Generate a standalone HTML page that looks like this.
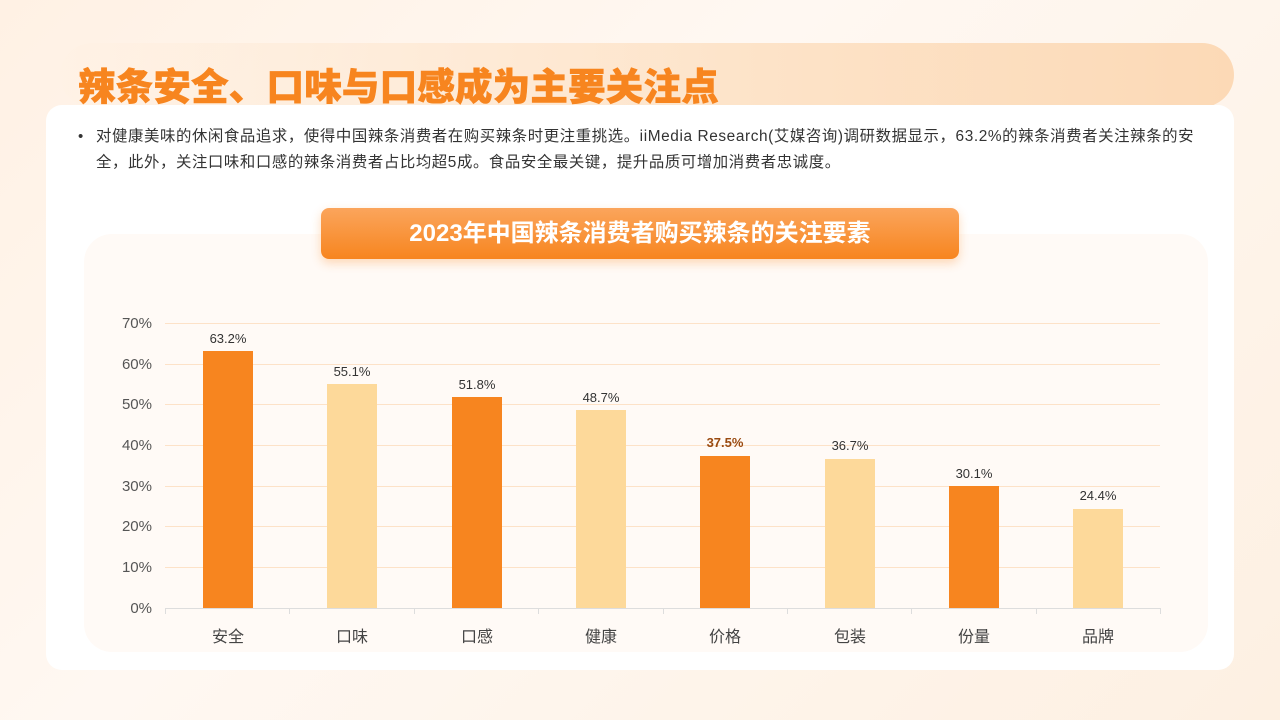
<!DOCTYPE html>
<html><head><meta charset="utf-8"><style>
*{margin:0;padding:0;box-sizing:border-box}
body{width:1280px;height:720px;overflow:hidden;font-family:"Liberation Sans","Noto Sans CJK SC",sans-serif;background:linear-gradient(135deg,#fff1e4 0%,#fff8f2 40%,#fdf0e2 100%);position:relative}
.band{position:absolute;left:60px;top:43px;width:1174px;height:64px;border-radius:32px;background:linear-gradient(90deg,rgba(255,240,225,0.2),#fde3c8 60%,#fcd9b6)}
.title{position:absolute;left:78px;top:56px;font-size:37.5px;font-weight:900;color:#f7851f;letter-spacing:0.2px;z-index:5;-webkit-text-stroke:0.6px #f7851f}
.card{position:absolute;left:46px;top:105px;width:1188px;height:565px;background:#fff;border-radius:16px}
.txt{position:absolute;left:96px;top:124px;width:1140px;font-size:15.4px;line-height:26px;color:#333;white-space:nowrap;letter-spacing:0.6px}
.bul{position:absolute;left:78px;top:124px;font-size:15px;line-height:26px;color:#333}
.inner{position:absolute;left:84px;top:234px;width:1124px;height:418px;background:#fffaf6;border-radius:28px}
.ct{position:absolute;left:321px;top:208px;width:638px;height:51px;border-radius:8px;background:linear-gradient(180deg,#fba55c,#f7851f);color:#fff;font-size:24px;font-weight:bold;text-align:center;line-height:51px;box-shadow:0 4px 10px rgba(247,133,31,0.3)}
.g{position:absolute;left:165px;width:995px;height:1px;background:#fde2c8}
.yl{position:absolute;left:100px;width:52px;text-align:right;font-size:15px;color:#555}
.bar{position:absolute;width:50px;bottom:112px}
.v{position:absolute;width:80px;text-align:center;font-size:13px;color:#333}
.x{position:absolute;top:623px;width:80px;text-align:center;font-size:16px;color:#444}
.t{position:absolute;top:608px;width:1px;height:6px;background:#ddd}
</style></head><body>
<div class="band"></div>
<div class="card"></div>
<div class="title">辣条安全、口味与口感成为主要关注点</div>
<div class="bul">•</div>
<div class="txt">对健康美味的休闲食品追求，使得中国辣条消费者在购买辣条时更注重挑选。iiMedia Research(艾媒咨询)调研数据显示，63.2%的辣条消费者关注辣条的安<br>全，此外，关注口味和口感的辣条消费者占比均超5成。食品安全最关键，提升品质可增加消费者忠诚度。</div>
<div class="inner"></div>
<div class="ct">2023年中国辣条消费者购买辣条的关注要素</div>
<div class="g" style="top:323px"></div><div class="g" style="top:364px"></div><div class="g" style="top:404px"></div><div class="g" style="top:445px"></div><div class="g" style="top:486px"></div><div class="g" style="top:526px"></div><div class="g" style="top:567px"></div>
<div class="g" style="top:608px;background:#ddd"></div>
<div class="yl" style="top:315px">70%</div><div class="yl" style="top:356px">60%</div><div class="yl" style="top:396px">50%</div><div class="yl" style="top:437px">40%</div><div class="yl" style="top:478px">30%</div><div class="yl" style="top:518px">20%</div><div class="yl" style="top:559px">10%</div><div class="yl" style="top:600px">0%</div>
<div class="t" style="left:165px"></div><div class="t" style="left:289px"></div><div class="t" style="left:414px"></div><div class="t" style="left:538px"></div><div class="t" style="left:663px"></div><div class="t" style="left:787px"></div><div class="t" style="left:911px"></div><div class="t" style="left:1036px"></div><div class="t" style="left:1160px"></div>
<div class="bar" style="left:203px;height:257px;background:#f7851f"></div>
<div class="bar" style="left:327px;height:224px;background:#fdd99a"></div>
<div class="bar" style="left:452px;height:211px;background:#f7851f"></div>
<div class="bar" style="left:576px;height:198px;background:#fdd99a"></div>
<div class="bar" style="left:700px;height:152px;background:#f7851f"></div>
<div class="bar" style="left:825px;height:149px;background:#fdd99a"></div>
<div class="bar" style="left:949px;height:122px;background:#f7851f"></div>
<div class="bar" style="left:1073px;height:99px;background:#fdd99a"></div>
<div class="v" style="left:188px;top:331px">63.2%</div>
<div class="v" style="left:312px;top:364px">55.1%</div>
<div class="v" style="left:437px;top:377px">51.8%</div>
<div class="v" style="left:561px;top:390px">48.7%</div>
<div class="v" style="left:685px;top:435px;color:#9a4a10;font-weight:bold">37.5%</div>
<div class="v" style="left:810px;top:438px">36.7%</div>
<div class="v" style="left:934px;top:466px">30.1%</div>
<div class="v" style="left:1058px;top:488px">24.4%</div>
<div class="x" style="left:188px">安全</div><div class="x" style="left:312px">口味</div><div class="x" style="left:437px">口感</div><div class="x" style="left:561px">健康</div><div class="x" style="left:685px">价格</div><div class="x" style="left:810px">包装</div><div class="x" style="left:934px">份量</div><div class="x" style="left:1058px">品牌</div>
</body></html>
